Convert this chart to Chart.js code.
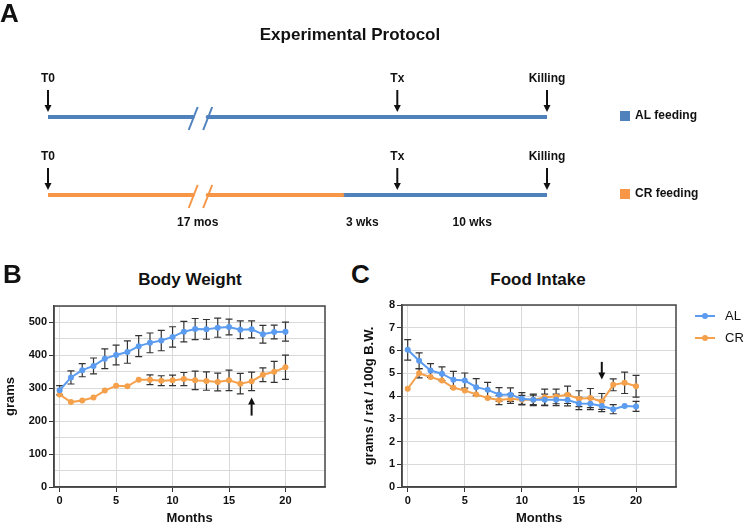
<!DOCTYPE html>
<html>
<head>
<meta charset="utf-8">
<script src="https://cdn.jsdelivr.net/npm/chart.js@4.4.1/dist/chart.umd.min.js"></script>
<style>
  body { margin: 0; background: #fff; }
  #page { position: relative; width: 745px; height: 526px; overflow: hidden;
          font-family: "Liberation Sans", Arial, sans-serif; color: #111; }
  .lbl { position: absolute; font-weight: bold; white-space: nowrap; }
  canvas { position: absolute; }
</style>
</head>
<body>
<div id="page">
  <canvas id="protocol" width="745" height="235" style="left:0;top:0"></canvas>
  <canvas id="weight" width="345" height="236" style="left:0;top:290px"></canvas>
  <canvas id="intake" width="400" height="236" style="left:345px;top:290px"></canvas>

  <div class="lbl" style="left:0;top:0;font-size:26px;line-height:26px">A</div>
  <div class="lbl" style="left:200px;width:300px;top:25px;text-align:center;font-size:17px;line-height:20px">Experimental Protocol</div>
  <div class="lbl" style="left:3px;top:261px;font-size:26px;line-height:26px">B</div>
  <div class="lbl" style="left:90px;width:200px;top:270px;text-align:center;font-size:17px;line-height:20px">Body Weight</div>
  <div class="lbl" style="left:351px;top:261px;font-size:26px;line-height:26px">C</div>
  <div class="lbl" style="left:438px;width:200px;top:270px;text-align:center;font-size:17px;line-height:20px">Food Intake</div>
</div>
<script>
// ---- protocol timeline (panel A) ----
const rowNames = ['AL feeding', 'CR feeding'];
const eventNames = ['T0', 'Tx', 'Killing'];
const eventAt = [0, 70, 100];
const breakAt = 30.5;
const switchAt = 59;
const periodNames = ['17 mos', '3 wks', '10 wks'];
const periodAt = [30, 63, 85];

// ---- body weight (panel B) ----
const months = [0, 1, 2, 3, 4, 5, 6, 7, 8, 9, 10, 11, 12, 13, 14, 15, 16, 17, 18, 19, 20];
const weightAL = [294, 333, 355, 368, 390, 401, 410, 428, 438, 445, 456, 472, 480, 479, 484, 486, 478, 479, 464, 471, 472];
const weightALErr = [14, 20, 20, 24, 30, 30, 34, 32, 30, 31, 31, 31, 32, 30, 29, 24, 27, 26, 27, 21, 29];
const weightCR = [281, 258, 263, 272, 293, 308, 306, 326, 326, 323, 324, 328, 324, 322, 319, 324, 314, 321, 341, 350, 364];
const weightCRErr = [12, 11, 4, 4, 4, 4, 4, 8, 15, 15, 16, 20, 28, 28, 27, 31, 31, 28, 21, 32, 37];

// ---- food intake (panel C) ----
const intakeAL = [6.03, 5.55, 5.12, 4.98, 4.71, 4.68, 4.39, 4.27, 4.07, 4.06, 3.88, 3.83, 3.83, 3.83, 3.82, 3.67, 3.66, 3.56, 3.42, 3.56, 3.54];
const intakeALErr = [0.45, 0.35, 0.3, 0.3, 0.37, 0.33, 0.37, 0.33, 0.3, 0.3, 0.27, 0.25, 0.25, 0.25, 0.25, 0.27, 0.26, 0.25, 0.2, 0.18, 0.22];
const intakeCR = [4.32, 5.0, 4.83, 4.68, 4.36, 4.24, 4.07, 3.91, 3.82, 3.88, 3.83, 3.83, 3.95, 3.98, 4.05, 3.88, 3.91, 3.76, 4.49, 4.58, 4.43];
const intakeCRErr = [0.18, 0.2, 0.1, 0.1, 0.1, 0.1, 0.1, 0.1, 0.2, 0.2, 0.2, 0.21, 0.35, 0.32, 0.38, 0.35, 0.42, 0.35, 0.26, 0.47, 0.48];

const arrowMonth = 17;

const BLUE = '#5b9cf0', ORANGE = '#f5a04b';
const LINE_BLUE = '#4f81bd', LINE_ORANGE = '#f79646';
Chart.defaults.font.family = '"Liberation Sans", Arial, sans-serif';
Chart.defaults.color = '#111';

function arrow(ctx, x, y0, y1) {
  const dir = y1 > y0 ? 1 : -1;
  ctx.beginPath();
  ctx.moveTo(x, y0);
  ctx.lineTo(x, y1 - dir * 6);
  ctx.stroke();
  ctx.beginPath();
  ctx.moveTo(x, y1);
  ctx.lineTo(x - 3.5, y1 - dir * 7);
  ctx.lineTo(x + 3.5, y1 - dir * 7);
  ctx.closePath();
  ctx.fill();
}

// ---------- panel A ----------
function seg(x0, x1, row, color) {
  return {
    data: [{x: x0, y: row}, {x: x1, y: row}],
    borderColor: color, borderWidth: 4, pointRadius: 0,
    borderCapStyle: 'round', showLine: true
  };
}
const gap = 1.5;
const protoSets = [
  seg(eventAt[0], breakAt - gap, 1, LINE_BLUE),
  seg(breakAt + gap, eventAt[2], 1, LINE_BLUE),
  seg(eventAt[0], breakAt - gap, 2, LINE_ORANGE),
  seg(breakAt + gap, switchAt, 2, LINE_ORANGE),
  seg(switchAt, eventAt[2], 2, LINE_BLUE)
];
const protoDeco = {
  id: 'protoDeco',
  afterDatasetsDraw(chart) {
    const {ctx, chartArea, scales: {x, y}} = chart;
    ctx.save();
    ctx.font = 'bold 12px "Liberation Sans", Arial, sans-serif';
    ctx.textAlign = 'center';
    ctx.textBaseline = 'middle';
    [1, 2].forEach((row, r) => {
      const ry = y.getPixelForValue(row);
      // break slashes
      const bx = x.getPixelForValue(breakAt);
      ctx.strokeStyle = r === 0 ? LINE_BLUE : LINE_ORANGE;
      ctx.lineWidth = 2;
      [-7, 7.5].forEach(o => {
        ctx.beginPath();
        ctx.moveTo(bx + o - 4.5, ry + 13);
        ctx.lineTo(bx + o + 4.5, ry - 10);
        ctx.stroke();
      });
      // event arrows + labels
      ctx.strokeStyle = '#111';
      ctx.fillStyle = '#111';
      eventAt.forEach((ev, i) => {
        const ex = x.getPixelForValue(ev);
        ctx.fillText(eventNames[i], ex, ry - 38);
        arrow(ctx, ex, ry - 27, ry - 5);
      });
      // legend
      const lx = chartArea.right + 73;
      ctx.fillStyle = r === 0 ? LINE_BLUE : LINE_ORANGE;
      ctx.fillRect(lx, ry - 6, 10, 10);
      ctx.fillStyle = '#111';
      ctx.textAlign = 'left';
      ctx.fillText(rowNames[r], lx + 15, ry - 1);
      ctx.textAlign = 'center';
    });
    const ry2 = y.getPixelForValue(2);
    periodAt.forEach((p, i) => {
      ctx.fillText(periodNames[i], x.getPixelForValue(p), ry2 + 28);
    });
    ctx.restore();
  }
};
new Chart(document.getElementById('protocol'), {
  type: 'scatter',
  data: {datasets: protoSets},
  options: {
    responsive: false, animation: false, devicePixelRatio: 1,
    layout: {padding: {left: 48, right: 198, top: 78, bottom: 1}},
    plugins: {legend: {display: false}, tooltip: {enabled: false}},
    scales: {
      x: {type: 'linear', min: 0, max: 100, display: false},
      y: {type: 'linear', min: 0.5, max: 2.5, reverse: true, display: false}
    }
  },
  plugins: [protoDeco]
});

// ---------- panels B and C ----------
const errorBars = {
  id: 'errorBars',
  beforeDatasetsDraw(chart) {
    const {ctx, scales: {x, y}} = chart;
    ctx.save();
    ctx.strokeStyle = '#333';
    ctx.lineWidth = 1.2;
    chart.data.datasets.forEach(ds => {
      ds.data.forEach((p, j) => {
        const e = ds.errors[j];
        const px = x.getPixelForValue(p.x);
        const top = y.getPixelForValue(p.y + e);
        const bot = y.getPixelForValue(p.y - e);
        if (bot - top < 9) return;
        ctx.beginPath();
        ctx.moveTo(px, top); ctx.lineTo(px, bot);
        ctx.moveTo(px - 3.5, top); ctx.lineTo(px + 3.5, top);
        ctx.moveTo(px - 3.5, bot); ctx.lineTo(px + 3.5, bot);
        ctx.stroke();
      });
    });
    ctx.restore();
  }
};
const frame = {
  id: 'frame',
  afterDatasetsDraw(chart, args, opts) {
    const {ctx, chartArea: a, scales: {x, y}} = chart;
    ctx.save();
    ctx.strokeStyle = '#444';
    ctx.lineWidth = 1.5;
    ctx.strokeRect(a.left, a.top, a.right - a.left, a.bottom - a.top);
    // annotation arrow at the switch month
    ctx.strokeStyle = '#111';
    ctx.fillStyle = '#111';
    ctx.lineWidth = 2;
    const ax = x.getPixelForValue(arrowMonth);
    arrow(ctx, ax, y.getPixelForValue(opts.from), y.getPixelForValue(opts.to));
    // line legend (panel C only)
    if (opts.legend) {
      ctx.font = '13px "Liberation Sans", Arial, sans-serif';
      ctx.textBaseline = 'middle';
      ctx.textAlign = 'left';
      chart.data.datasets.forEach((ds, i) => {
        const ly = a.top + 11 + i * 22;
        const lx = a.right + 19;
        ctx.strokeStyle = ds.borderColor;
        ctx.fillStyle = ds.borderColor;
        ctx.lineWidth = 2;
        ctx.beginPath(); ctx.moveTo(lx, ly); ctx.lineTo(lx + 20, ly); ctx.stroke();
        ctx.beginPath(); ctx.arc(lx + 10, ly, 3, 0, Math.PI * 2); ctx.fill();
        ctx.fillStyle = '#111';
        ctx.fillText(ds.label, lx + 30, ly);
      });
    }
    ctx.restore();
  }
};

function series(label, vals, errs, color) {
  return {
    label, errors: errs,
    data: months.map((m, i) => ({x: m, y: vals[i]})),
    borderColor: color, backgroundColor: color, borderWidth: 2,
    pointRadius: 3, pointBorderWidth: 0, tension: 0
  };
}
const tickFont = {size: 11, weight: 'bold'};
const titleFont = {size: 13, weight: 'bold'};
function xScale() {
  return {
    type: 'linear', min: -0.5, max: 23.5,
    ticks: {stepSize: 5, includeBounds: false, font: tickFont, color: '#111', padding: 2},
    grid: {color: '#d9d9d9', tickLength: 5, tickColor: '#333'},
    border: {color: '#444', width: 1.5},
    title: {display: true, text: 'Months', font: titleFont, color: '#111', padding: 0},
    afterFit(s) { s.height = 39; }
  };
}

new Chart(document.getElementById('weight'), {
  type: 'line',
  data: {datasets: [
    series('AL', weightAL, weightALErr, BLUE),
    series('CR', weightCR, weightCRErr, ORANGE)
  ]},
  options: {
    responsive: false, animation: false, devicePixelRatio: 1,
    layout: {padding: {left: 0, right: 20, top: 16, bottom: 0}},
    plugins: {legend: {display: false}, tooltip: {enabled: false},
              frame: {from: 217, to: 272}},
    scales: {
      x: xScale(),
      y: {
        min: 0, max: 550,
        ticks: {stepSize: 50, font: tickFont, color: '#111', padding: 2,
                callback: v => (v % 100 === 0 ? v : '')},
        grid: {color: '#d9d9d9', tickLength: 5,
               tickColor: c => (c.tick && c.tick.value % 100 === 0 ? '#333' : 'rgba(0,0,0,0)')},
        border: {color: '#444', width: 1.5},
        title: {display: true, text: 'grams', font: titleFont, color: '#111', padding: {top: 3, bottom: 0}},
        afterFit(s) { s.width = 54; }
      }
    }
  },
  plugins: [errorBars, frame]
});

new Chart(document.getElementById('intake'), {
  type: 'line',
  data: {datasets: [
    series('AL', intakeAL, intakeALErr, BLUE),
    series('CR', intakeCR, intakeCRErr, ORANGE)
  ]},
  options: {
    responsive: false, animation: false, devicePixelRatio: 1,
    layout: {padding: {left: 0, right: 69, top: 15, bottom: 0}},
    plugins: {legend: {display: false}, tooltip: {enabled: false},
              frame: {from: 5.5, to: 4.73, legend: true}},
    scales: {
      x: xScale(),
      y: {
        min: 0, max: 8,
        ticks: {stepSize: 1, font: tickFont, color: '#111', padding: 2},
        grid: {color: '#d9d9d9', tickLength: 5, tickColor: '#333'},
        border: {color: '#444', width: 1.5},
        title: {display: true, text: 'grams / rat / 100g B.W.', font: titleFont, color: '#111', padding: {top: 17, bottom: 0}},
        afterFit(s) { s.width = 57; }
      }
    }
  },
  plugins: [errorBars, frame]
});
</script>
</body>
</html>
